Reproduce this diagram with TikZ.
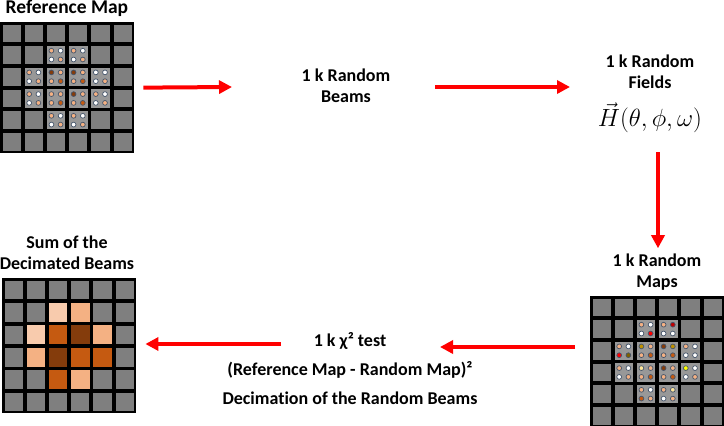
\documentclass[tikz,border=0pt]{standalone}
\usepackage{fontspec}
\setmainfont{Carlito}[Ligatures=NoCommon]
\usetikzlibrary{arrows.meta}
\definecolor{cellgray}{HTML}{7F7F7F}
\definecolor{hotgray}{HTML}{989898}
\definecolor{ringblue}{HTML}{44546A}
\definecolor{wt}{HTML}{FFFFFF}
\definecolor{lp}{HTML}{F8CBAD}
\definecolor{pk}{HTML}{F4B183}
\definecolor{og}{HTML}{C55A11}
\definecolor{db}{HTML}{843C0C}
\definecolor{rd}{HTML}{FF0000}
\definecolor{dr}{HTML}{C00000}
\definecolor{gd}{HTML}{BF9000}
\definecolor{ol}{HTML}{7F6000}
\definecolor{yl}{HTML}{FFFF00}
\definecolor{ly}{HTML}{FFE699}
\begin{document}
\begin{tikzpicture}[x=1pt, y=-1pt,
  board/.style={fill=black, minimum width=134pt, minimum height=131pt, inner sep=0, anchor=north west},
  cell/.style={fill=cellgray, minimum width=18.2pt, minimum height=17.8pt, inner sep=0},
  dot/.style={draw=ringblue, line width=0.7pt},
  lbl/.style={font=\fontsize{18}{21}\selectfont\bfseries, align=center},
  redarrow/.style={draw=red, line width=4pt, -{Triangle[length=13pt, width=13pt]}}
]
\useasboundingbox (0,0) rectangle (724,426);
\node[lbl, font=\fontsize{19.5}{22}\selectfont\bfseries] (reftitle) at (67,8) {Reference Map};
\node[board] (ref) at (0,22) {};
\foreach \i in {0,...,5}{
  \foreach \j in {0,...,5}{
    \node[cell] (ref\i\j) at ({11.6+22.2*\i}, {33.4+21.7*\j}) {};
  }
}
\foreach \c/\r/\ka/\kb/\kc/\kd in {2/1/pk/wt/wt/pk, 3/1/pk/wt/wt/pk, 1/2/pk/wt/wt/pk, 2/2/db/pk/pk/og,
    3/2/db/pk/pk/og, 4/2/wt/wt/wt/pk, 1/3/pk/wt/wt/pk, 2/3/pk/pk/pk/og, 3/3/db/pk/pk/og,
    4/3/pk/wt/wt/pk, 2/4/pk/wt/wt/pk, 3/4/pk/wt/wt/pk}{
  \fill[hotgray] (ref\c\r.north west) rectangle (ref\c\r.south east);
  \draw[dot, fill=\ka] ([shift={(-4.6,-4.4)}]ref\c\r.center) circle[radius=2.4pt];
  \draw[dot, fill=\kb] ([shift={(4.6,-4.4)}]ref\c\r.center) circle[radius=2.4pt];
  \draw[dot, fill=\kc] ([shift={(-4.6,4.4)}]ref\c\r.center) circle[radius=2.4pt];
  \draw[dot, fill=\kd] ([shift={(4.6,4.4)}]ref\c\r.center) circle[radius=2.4pt];
}
\node[lbl] (beams) at (346,86) {1 k Random\\Beams};
\node[lbl] (fields) at (650,72) {1 k Random\\Fields};
\node[font=\fontsize{28}{32}\selectfont, inner sep=1pt] (hfield) at (650,118) {$\vec{H}(\theta,\phi,\omega)$};
\node[lbl] (maps) at (657,272) {1 k Random\\Maps};
\node[board] (rmap) at (590,296) {};
\foreach \i in {0,...,5}{
  \foreach \j in {0,...,5}{
    \node[cell] (rmap\i\j) at ({601.6+22.2*\i}, {307.4+21.7*\j}) {};
  }
}
\foreach \c/\r/\ka/\kb/\kc/\kd in {2/1/pk/wt/wt/rd, 3/1/pk/dr/wt/wt, 1/2/pk/wt/rd/ol, 2/2/gd/pk/pk/og,
    3/2/db/gd/pk/og, 4/2/pk/wt/wt/wt, 1/3/pk/wt/wt/pk, 2/3/ly/pk/pk/og, 3/3/db/pk/pk/og,
    4/3/yl/wt/wt/pk, 2/4/pk/wt/og/pk, 3/4/pk/ly/wt/pk}{
  \fill[hotgray] (rmap\c\r.north west) rectangle (rmap\c\r.south east);
  \draw[dot, fill=\ka] ([shift={(-4.6,-4.4)}]rmap\c\r.center) circle[radius=2.4pt];
  \draw[dot, fill=\kb] ([shift={(4.6,-4.4)}]rmap\c\r.center) circle[radius=2.4pt];
  \draw[dot, fill=\kc] ([shift={(-4.6,4.4)}]rmap\c\r.center) circle[radius=2.4pt];
  \draw[dot, fill=\kd] ([shift={(4.6,4.4)}]rmap\c\r.center) circle[radius=2.4pt];
}
\node[lbl] (sumlbl) at (67,253) {Sum of the\\Decimated Beams};
\node[board, minimum height=135pt] (sum) at (2,278) {};
\foreach \i in {0,...,5}{
  \foreach \j in {0,...,5}{
    \node[cell, minimum height=18.6pt] (sum\i\j) at ({13.6+22.2*\i}, {290+22.4*\j}) {};
  }
}
\foreach \c/\r/\k in {2/1/lp, 3/1/pk, 1/2/lp, 2/2/og, 3/2/db, 4/2/pk,
    1/3/pk, 2/3/db, 3/3/og, 4/3/og, 2/4/og, 3/4/pk}{
  \fill[\k] (sum\c\r.north west) rectangle (sum\c\r.south east);
}
\node[lbl] (test) at (350,369) {1 k χ² test\\[8pt](Reference Map - Random Map)²\\[8pt]Decimation of the Random Beams};
\coordinate (a1end) at (232,87);
\coordinate (a2beg) at (435,87);
\coordinate (a2end) at (570,87);
\coordinate (a3beg) at (658,152);
\coordinate (a4beg) at (575,347);
\coordinate (a4end) at (440,347);
\coordinate (a5beg) at (281,344);
\draw[redarrow, shorten <=9pt] (ref.east) -- (a1end);
\draw[redarrow] (a2beg) -- (a2end);
\draw[redarrow, shorten >=2pt] (a3beg) -- (a3beg |- maps.north);
\draw[redarrow] (a4beg) -- (a4end);
\draw[redarrow, shorten >=9pt] (a5beg) -- (a5beg -| sum.east);
\end{tikzpicture}
\end{document}
